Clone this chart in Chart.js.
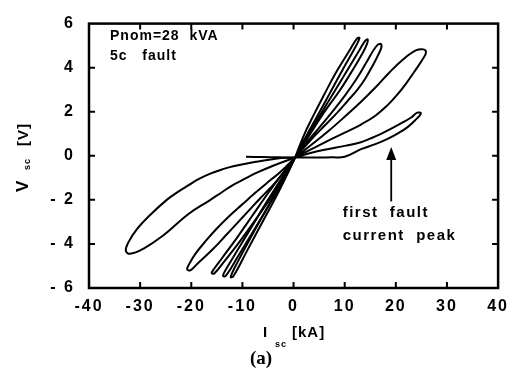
<!DOCTYPE html>
<html>
<head>
<meta charset="utf-8">
<title>Short-circuit voltage vs current loops</title>
<script src="https://cdn.jsdelivr.net/npm/chart.js@4.4.0/dist/chart.umd.min.js"></script>
<style>
  html, body { margin: 0; padding: 0; background: #fff; }
  #chartBox { width: 516px; height: 374px; }
</style>
</head>
<body>
<div id="chartBox"><canvas id="loopChart" width="516" height="374"></canvas></div>
<script>
// Axis ranges / ticks
var xTicks = [-40, -30, -20, -10, 0, 10, 20, 30, 40];
var yTicks = [-6, -4, -2, 0, 2, 4, 6];

// Loops as [Isc kA, Vsc V], walked round each loop
// first half-cycle (starts on the flat line left of 0, goes to the first peak)
var loop1 = [[-9.3,-0.04],[-6,-0.06],[-3,-0.07],[0.3,-0.08],[4,-0.08],[7.5,-0.07],[10,-0.04],[13.2,0.3],[16,0.53],[18.4,0.77],[20.5,1.03],[22.3,1.3],[23.8,1.62],[24.9,1.92],[24.2,1.96],[23,1.74],[21,1.47],[19,1.22],[17,0.98],[15,0.78],[13,0.6],[10,0.45],[6.6,0.3],[3.5,0.14],[0.3,-0.08]];
var loop2 = [[0.3,-0.08],[-3.5,-0.13],[-7.3,-0.27],[-11.8,-0.47],[-14,-0.62],[-16.4,-0.82],[-18.5,-1.05],[-20.5,-1.33],[-22.7,-1.65],[-24.8,-2.0],[-28.1,-2.7],[-30.7,-3.35],[-32.3,-3.93],[-32.8,-4.3],[-32,-4.45],[-29.4,-4.22],[-25.5,-3.62],[-20.6,-2.65],[-16.4,-2.02],[-13.8,-1.62],[-11.8,-1.32],[-9.5,-1.04],[-7.5,-0.8],[-4,-0.45],[0.3,-0.08]];
var loop3 = [[0.3,-0.08],[3.5,0.3],[6.7,0.68],[10,1.05],[13.2,1.42],[16,1.82],[18.4,2.3],[20.2,2.75],[22,3.28],[23.9,3.91],[25.3,4.4],[25.9,4.7],[25.4,4.83],[23.9,4.78],[21.3,4.35],[18.7,3.77],[16.1,3.12],[13.2,2.45],[10,1.77],[6.7,1.1],[3.5,0.5],[0.3,-0.08]];
var loop4 = [[0.3,-0.08],[-2.7,-0.76],[-4.5,-1.1],[-7.6,-1.7],[-10,-2.2],[-12.5,-2.72],[-15,-3.3],[-17,-3.82],[-19.2,-4.45],[-20.5,-4.95],[-20.8,-5.15],[-20.2,-5.2],[-18.8,-4.9],[-15.7,-4.22],[-13,-3.55],[-11.2,-3.1],[-8.8,-2.5],[-6.6,-1.95],[-4.5,-1.45],[-2.7,-0.98],[0.3,-0.08]];
var loop5 = [[0.3,-0.08],[3.5,0.75],[6,1.35],[8.5,1.95],[10.6,2.5],[12.5,3.0],[14,3.5],[15.5,4.1],[16.6,4.6],[17.2,4.95],[17,5.08],[16.1,4.95],[14.2,4.22],[12.2,3.45],[10,2.72],[8,2.12],[6,1.55],[4,1.0],[2,0.45],[0.3,-0.08]];
var loop6 = [[0.3,-0.08],[-2,-0.75],[-5,-1.7],[-8,-2.7],[-11,-3.7],[-14,-4.65],[-15.6,-5.15],[-16,-5.32],[-15.5,-5.34],[-13.5,-4.78],[-10.5,-3.88],[-7.5,-2.92],[-4.5,-1.92],[-1.5,-0.82],[0.3,-0.08]];
var loop7 = [[0.3,-0.08],[3,0.9],[6,1.98],[9,2.95],[11.6,3.91],[13.6,4.7],[14.4,5.1],[14.5,5.28],[14,5.22],[12.9,4.8],[10.3,3.8],[7.7,2.8],[5,1.78],[2.5,0.82],[0.3,-0.08]];
var loop8 = [[0.3,-0.08],[-2,-0.9],[-5,-2.0],[-8,-3.15],[-11,-4.3],[-13.2,-5.15],[-13.8,-5.44],[-13.3,-5.46],[-11,-4.62],[-8,-3.47],[-5,-2.32],[-2,-1.17],[0.3,-0.08]];
var loop9 = [[0.3,-0.08],[2.5,0.9],[5,1.95],[7,2.8],[9.6,3.91],[12.2,4.98],[12.9,5.35],[12.4,5.32],[11,4.8],[8.3,3.78],[6,2.78],[4,1.88],[2,0.92],[0.3,-0.08]];
var loop10 = [[0.3,-0.08],[-2,-1.0],[-5,-2.3],[-8,-3.55],[-11,-4.85],[-12.3,-5.5],[-11.8,-5.48],[-9,-4.27],[-6,-2.97],[-3,-1.67],[0.3,-0.08]];
var loops = [loop1, loop2, loop3, loop4, loop5, loop6, loop7, loop8, loop9, loop10];

// Annotations
var noteTop = ['Pnom=28  kVA', '5c   fault'];
var notePeak = ['first  fault', 'current  peak'];
var arrowX = 19.1, arrowFrom = -2.07, arrowTo = 0.4;   // data units

var FONT = '"Liberation Sans", Arial, Helvetica, sans-serif';

document.addEventListener('DOMContentLoaded', function () {
  // box with inward ticks on all four sides, plus titles and notes
  var framePlugin = {
    id: 'frame',
    beforeDraw: function (chart) {
      chart.ctx.letterSpacing = '2px';
    },
    afterDraw: function (chart) {
      var ctx = chart.ctx, a = chart.chartArea;
      var xs = chart.scales.x, ys = chart.scales.y;
      ctx.save();
      ctx.strokeStyle = '#000';
      ctx.fillStyle = '#000';
      ctx.lineWidth = 2.5;
      ctx.strokeRect(a.left, a.top, a.right - a.left, a.bottom - a.top);

      ctx.lineWidth = 2;
      ctx.beginPath();
      xs.ticks.forEach(function (t) {
        if (t.value === xs.min || t.value === xs.max) return;
        var px = xs.getPixelForValue(t.value);
        ctx.moveTo(px, a.bottom); ctx.lineTo(px, a.bottom - 6);
        ctx.moveTo(px, a.top); ctx.lineTo(px, a.top + 6);
      });
      ys.ticks.forEach(function (t) {
        if (t.value === ys.min || t.value === ys.max) return;
        var py = ys.getPixelForValue(t.value);
        ctx.moveTo(a.left, py); ctx.lineTo(a.left + 6, py);
        ctx.moveTo(a.right, py); ctx.lineTo(a.right - 6, py);
      });
      ctx.stroke();

      // arrow pointing at the first peak
      var ax = xs.getPixelForValue(arrowX);
      var ay0 = ys.getPixelForValue(arrowFrom), ay1 = ys.getPixelForValue(arrowTo);
      ctx.lineWidth = 1.8;
      ctx.beginPath();
      ctx.moveTo(ax, ay0); ctx.lineTo(ax, ay1 + 10);
      ctx.stroke();
      ctx.beginPath();
      ctx.moveTo(ax, ay1); ctx.lineTo(ax - 5, ay1 + 13); ctx.lineTo(ax + 5, ay1 + 13);
      ctx.closePath();
      ctx.fill();

      // notes
      ctx.textBaseline = 'alphabetic';
      ctx.textAlign = 'left';
      ctx.letterSpacing = '1px';
      ctx.font = 'bold 14px ' + FONT;
      ctx.fillText(noteTop[0], a.left + 21, 40);
      ctx.fillText(noteTop[1], a.left + 21, 60);
      ctx.letterSpacing = '1.5px';
      ctx.font = 'bold 15px ' + FONT;
      var nx = xs.getPixelForValue(9.6);
      ctx.fillText(notePeak[0], nx, 217);
      ctx.fillText(notePeak[1], nx, 240);

      // x title: I_sc [kA]
      ctx.letterSpacing = '1px';
      ctx.font = 'bold 15px ' + FONT;
      ctx.fillText('I', 263, 337);
      ctx.font = 'bold 9px ' + FONT;
      ctx.fillText('sc', 275, 347);
      ctx.font = 'bold 15px ' + FONT;
      ctx.fillText('[kA]', 292, 337);

      // y title: V_sc [V], rotated
      ctx.save();
      ctx.translate(28, 192);
      ctx.rotate(-Math.PI / 2);
      ctx.font = 'bold 17px ' + FONT;
      ctx.fillText('V', 0, 0);
      ctx.font = 'bold 9px ' + FONT;
      ctx.fillText('sc', 22, 2);
      ctx.font = 'bold 15px ' + FONT;
      ctx.fillText('[V]', 46, 0);
      ctx.restore();

      // panel label
      ctx.letterSpacing = '0px';
      ctx.font = 'bold 19px "Liberation Serif", "Times New Roman", serif';
      ctx.fillText('(a)', 250, 364);
      ctx.restore();
    }
  };

  var datasets = loops.map(function (loop, i) {
    return {
      label: 'loop ' + (i + 1),
      data: loop.map(function (p) { return { x: p[0], y: p[1] }; }),
      showLine: true,
      borderColor: '#000',
      backgroundColor: '#000',
      borderWidth: 2,
      borderJoinStyle: 'round',
      pointRadius: 0,
      tension: 0.4,
      fill: false
    };
  });

  var tickFont = { family: FONT, size: 16, weight: 'bold' };

  var ctx = document.getElementById('loopChart');
  new Chart(ctx, {
    type: 'scatter',
    data: { datasets: datasets },
    options: {
      responsive: false,
      animation: false,
      layout: { padding: { top: 10, right: 17, left: 0, bottom: 0 } },
      scales: {
        x: {
          type: 'linear',
          min: xTicks[0],
          max: xTicks[xTicks.length - 1],
          afterBuildTicks: function (s) { s.ticks = xTicks.map(function (v) { return { value: v }; }); },
          afterFit: function (s) { s.height = 86; },
          grid: { display: false, drawTicks: false },
          border: { display: false },
          ticks: { color: '#000', font: tickFont, padding: 9, maxRotation: 0 }
        },
        y: {
          type: 'linear',
          min: yTicks[0],
          max: yTicks[yTicks.length - 1],
          afterBuildTicks: function (s) { s.ticks = yTicks.map(function (v) { return { value: v }; }); },
          afterFit: function (s) { s.width = 89; },
          grid: { display: false, drawTicks: false },
          border: { display: false },
          ticks: {
            color: '#000',
            font: tickFont,
            padding: 14,
            callback: function (v) { return v < 0 ? '- ' + Math.abs(v) : String(v); }
          }
        }
      },
      plugins: {
        legend: { display: false },
        tooltip: { enabled: false }
      }
    },
    plugins: [framePlugin]
  });
});
</script>
</body>
</html>
